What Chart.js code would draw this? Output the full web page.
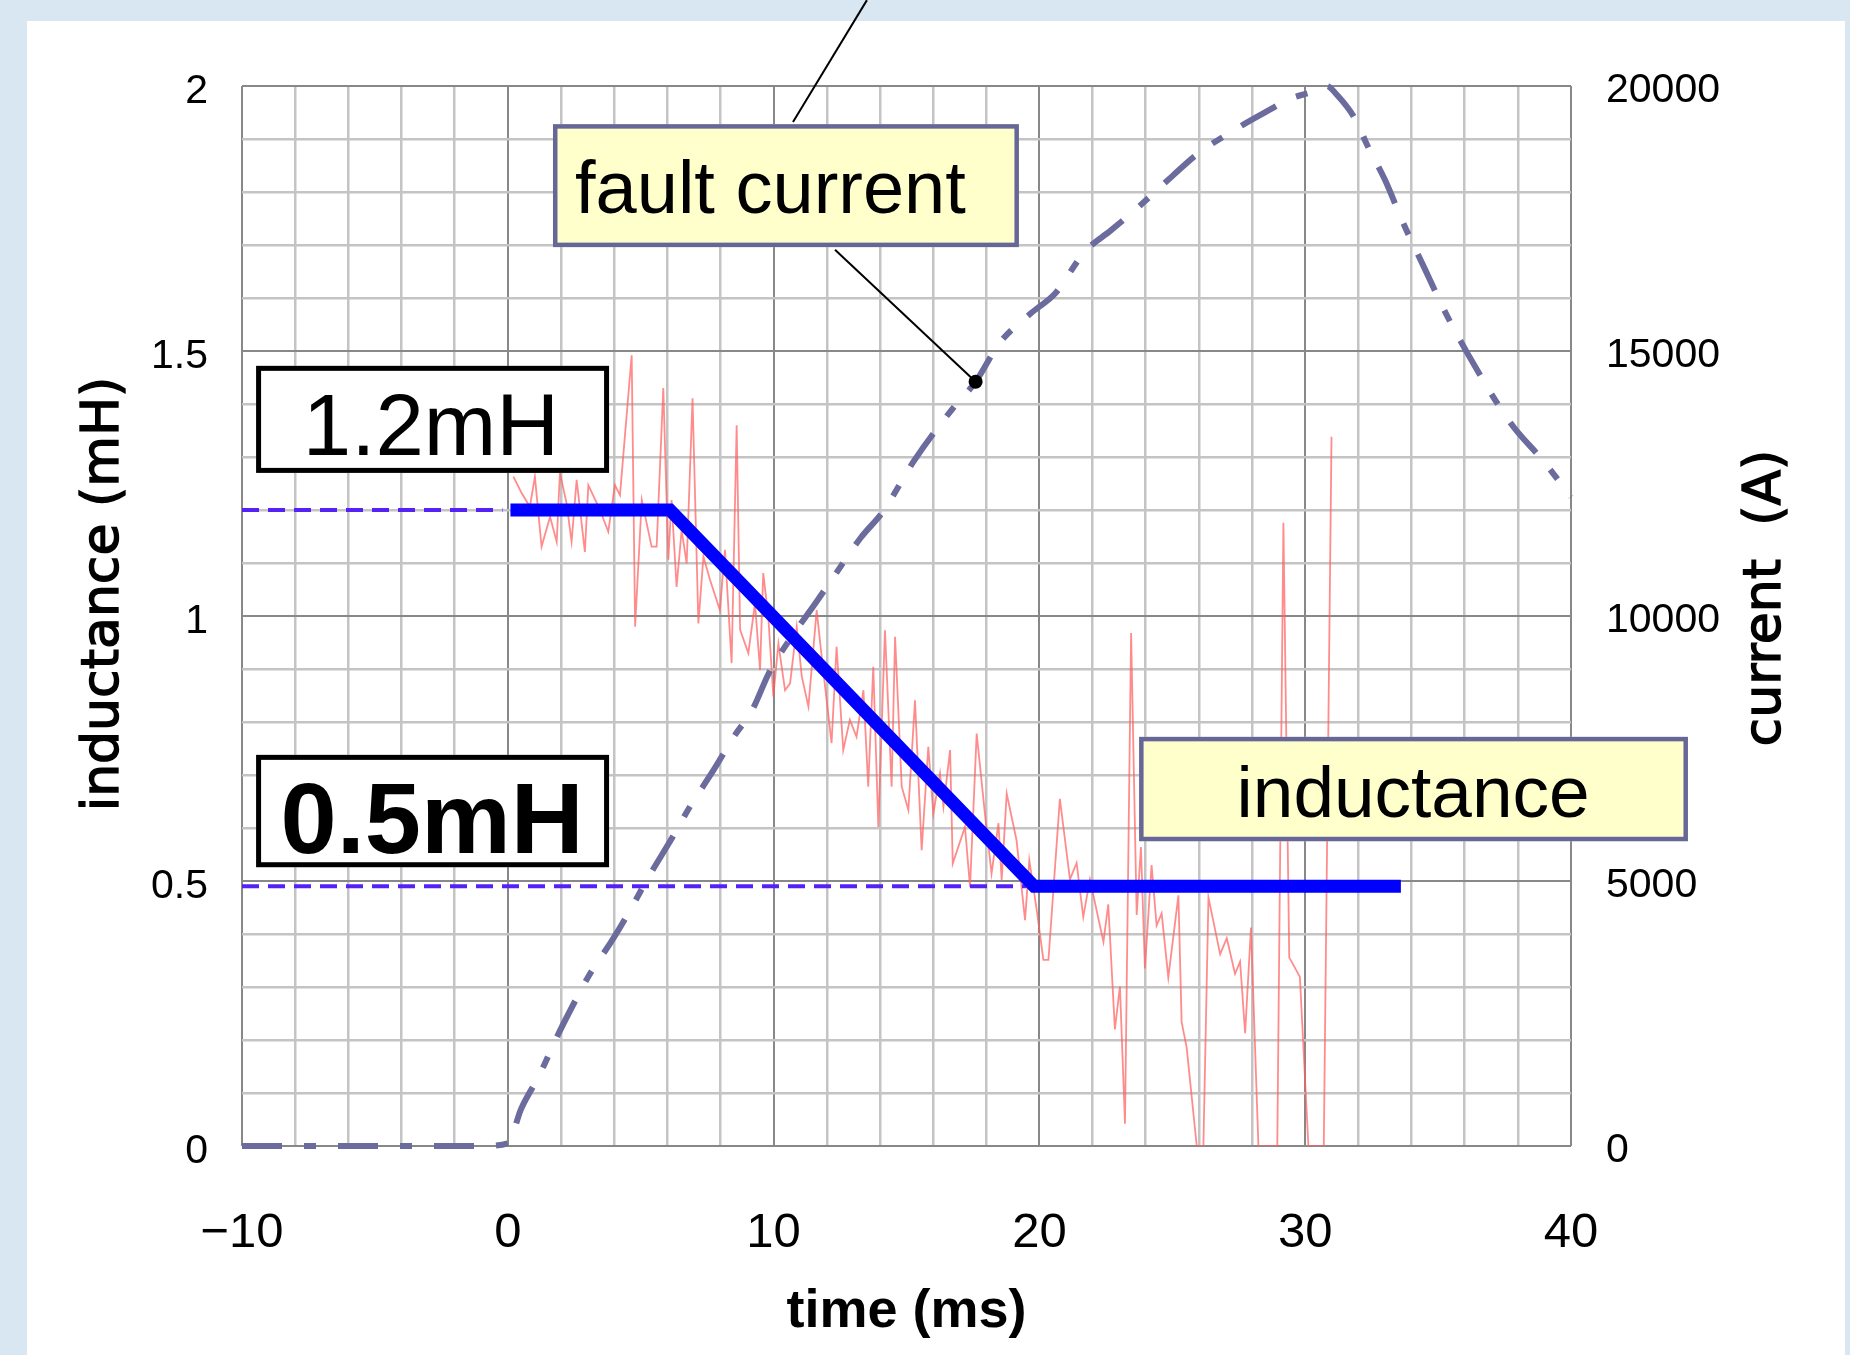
<!DOCTYPE html>
<html>
<head>
<meta charset="utf-8">
<title>Inductance change during fault current</title>
<script src="https://cdn.jsdelivr.net/npm/chart.js@4.4.1/dist/chart.umd.min.js"></script>
<style>
    html, body { margin: 0; padding: 0; }
    body { width: 1850px; height: 1355px; background: #d8e7f2; position: relative; overflow: hidden; }
    #panel { position: absolute; left: 27px; top: 21px; width: 1818px; height: 1334px; background: #ffffff; }
    #chart { position: absolute; left: 0; top: 0; }
</style>
</head>
<body>
<div id="panel"></div>
<canvas id="chart" width="1850" height="1355"></canvas>
<script>
// Inductance / fault current plot
// values

// labelled ticks
const timeTicks = [-10, 0, 10, 20, 30, 40];
const inductanceTicks = [0, 0.5, 1, 1.5, 2];
const currentTicks = [0, 5000, 10000, 15000, 20000];

// measured inductance (thin red trace), ms / mH
const measTime = [
    0.21, 0.52, 0.83, 1.02, 1.27, 1.59, 1.84, 1.96, 2.21, 2.40,
    2.59, 2.90, 3.03, 3.47, 3.78, 4.03, 4.22, 4.66, 4.79, 5.04,
    5.41, 5.60, 5.85, 6.04, 6.16, 6.35, 6.54, 6.73, 6.95, 7.17,
    7.36, 7.61, 7.98, 8.17, 8.42, 8.61, 8.74, 9.05, 9.30, 9.49,
    9.61, 9.80, 9.99, 10.18, 10.43, 10.62, 10.87, 11.06, 11.31, 11.62,
    11.81, 12.18, 12.37, 12.62, 12.87, 13.12, 13.38, 13.56, 13.75, 13.94,
    14.19, 14.44, 14.57, 14.82, 15.07, 15.32, 15.57, 15.82, 16.01, 16.26,
    16.39, 16.64, 16.74, 17.20, 17.39, 17.64, 17.95, 18.20, 18.46, 18.58,
    18.77, 19.14, 19.46, 19.62, 19.90, 20.15, 20.34, 20.77, 21.15, 21.40,
    21.65, 21.90, 22.41, 22.59, 22.84, 23.03, 23.22, 23.45, 23.66, 23.82,
    23.97, 24.22, 24.41, 24.60, 24.85, 25.23, 25.35, 25.54, 25.92, 26.17,
    26.36, 26.80, 27.05, 27.36, 27.55, 27.74, 27.96, 28.24, 28.74, 28.95,
    29.18, 29.40, 29.80, 30.12, 30.70, 30.99
];
const measInductance = [
    1.263, 1.232, 1.206, 1.263, 1.131, 1.187, 1.140, 1.270, 1.213, 1.140,
    1.257, 1.121, 1.247, 1.200, 1.159, 1.247, 1.228, 1.492, 0.980, 1.219,
    1.131, 1.131, 1.430, 1.106, 1.219, 1.055, 1.162, 1.099, 1.411, 0.986,
    1.112, 1.068, 1.011, 1.125, 0.911, 1.360, 0.974, 0.930, 1.024, 0.898,
    1.081, 0.999, 0.848, 0.948, 0.860, 0.873, 0.980, 0.886, 0.829, 1.011,
    0.923, 0.760, 0.942, 0.747, 0.804, 0.772, 0.860, 0.678, 0.904, 0.602,
    0.973, 0.678, 0.961, 0.678, 0.634, 0.841, 0.558, 0.753, 0.627, 0.703,
    0.640, 0.747, 0.533, 0.602, 0.489, 0.778, 0.627, 0.514, 0.609, 0.502,
    0.665, 0.577, 0.426, 0.539, 0.445, 0.351, 0.351, 0.655, 0.503, 0.534,
    0.432, 0.503, 0.385, 0.456, 0.220, 0.301, 0.042, 0.968, 0.436, 0.564,
    0.335, 0.530, 0.416, 0.439, 0.318, 0.473, 0.234, 0.186, 0.000, 0.000,
    0.469, 0.362, 0.392, 0.325, 0.348, 0.213, 0.412, 0.000, 0.000, 0.000,
    1.176, 0.356, 0.319, 0.000, 0.000, 1.338
];

// fault current (dash-dot, right axis), ms / A
const currentTime = [
    -10, -1, 0, 0.5, 1.2, 1.85, 2.6, 3.0, 4.0, 4.6,
    5.3, 6.2, 6.85, 7.75, 8.5, 9.2, 9.85, 10.6, 11.6, 12.3,
    13.3, 14.1, 15.3, 16.7, 17.6, 18.5, 19.7, 20.6, 21.7, 22.7,
    23.8, 25.0, 25.9, 27.2, 28.3, 29.5, 30.2, 30.8, 31.2, 31.9,
    32.3, 33.0, 33.7, 34.5, 35.2, 36.1, 37.7, 39.0, 40
];
const currentAmps = [
    0, 0, 50, 700, 1350, 2060, 2800, 3170, 3940, 4450,
    5080, 5830, 6400, 7100, 7720, 8230, 8950, 9550, 10260, 10770,
    11490, 11960, 12940, 13890, 14420, 15150, 15720, 16090, 16870, 17280,
    17750, 18300, 18700, 19130, 19450, 19770, 19880, 20000, 19830, 19360,
    18920, 18230, 17400, 16550, 15800, 14960, 13660, 12900, 12245
];

// idealised inductance step (thick blue line)
const modelTime = [0.1, 6.1, 19.8, 33.6];
const modelInductance = [1.2, 1.2, 0.49, 0.49];

// dashed guide levels
const guideHighTime = [-10, -0.2];
const guideHigh = [1.2, 1.2];
const guideLowTime = [-10, 19.5];
const guideLow = [0.49, 0.49];

const SANS = '"Liberation Sans", Arial, sans-serif';
const WIDE = '"DejaVu Sans", Verdana, sans-serif';

// annotation boxes, placed in axis units
const boxes = [
    { text: '1.2mH', t0: -9.47, t1: 3.81, v0: 1.472, v1: 1.270, tx: -2.89, ty: 1.304,
      fill: '#ffffff', stroke: '#000000', lw: 5, font: '87px ' + SANS, align: 'center' },
    { text: '0.5mH', t0: -9.47, t1: 3.81, v0: 0.738, v1: 0.526, tx: -2.85, ty: 0.553,
      fill: '#ffffff', stroke: '#000000', lw: 5, font: 'bold 101px ' + SANS, align: 'center' },
    { text: 'fault current', t0: 1.70, t1: 19.23, v0: 1.928, v1: 1.696, tx: 2.53, ty: 1.760,
      fill: '#ffffcc', stroke: '#666699', lw: 4.5, font: '74px ' + SANS, align: 'left' },
    { text: 'inductance', t0: 23.75, t1: 44.4, v0: 0.772, v1: 0.575, tx: 34.06, ty: 0.621,
      fill: '#ffffcc', stroke: '#666699', lw: 4.5, font: '73px ' + SANS, align: 'center' }
];

function zip(xs, ys) {
    return xs.map((x, i) => ({ x: x, y: ys[i] }));
}

function currentAt(t) {
    for (let i = 1; i < currentTime.length; i++) {
        if (t <= currentTime[i]) {
            const f = (t - currentTime[i - 1]) / (currentTime[i] - currentTime[i - 1]);
            return currentAmps[i - 1] + f * (currentAmps[i] - currentAmps[i - 1]);
        }
    }
    return currentAmps[currentAmps.length - 1];
}

function fmtTime(v) {
    return v < 0 ? '\u2212' + Math.abs(v) : String(v);
}

function heavyText(ctx, text, x, y) {
    ctx.fillText(text, x, y);
    ctx.strokeText(text, x, y);
}

const annotations = {
    id: 'annotations',
    afterDatasetsDraw(chart) {
        const { ctx, scales } = chart;
        const x = scales.x, y = scales.y, y2 = scales.y2;
        ctx.save();

        // callout leader lines
        ctx.strokeStyle = '#000';
        ctx.lineWidth = 2;
        ctx.beginPath();
        ctx.moveTo(x.getPixelForValue(13.51), y.getPixelForValue(2.162));
        ctx.lineTo(x.getPixelForValue(10.73), y.getPixelForValue(1.932));
        ctx.stroke();

        const dotT = 17.6;
        const dotX = x.getPixelForValue(dotT);
        const dotY = y2.getPixelForValue(currentAt(dotT));
        ctx.beginPath();
        ctx.moveTo(x.getPixelForValue(12.31), y.getPixelForValue(1.691));
        ctx.lineTo(dotX, dotY);
        ctx.stroke();
        ctx.beginPath();
        ctx.arc(dotX, dotY, 7, 0, Math.PI * 2);
        ctx.fillStyle = '#000';
        ctx.fill();

        boxes.forEach(b => {
            const l = x.getPixelForValue(b.t0), r = x.getPixelForValue(b.t1);
            const t = y.getPixelForValue(b.v0), bt = y.getPixelForValue(b.v1);
            ctx.fillStyle = b.fill;
            ctx.fillRect(l, t, r - l, bt - t);
            ctx.lineWidth = b.lw;
            ctx.strokeStyle = b.stroke;
            ctx.strokeRect(l + b.lw / 2, t + b.lw / 2, r - l - b.lw, bt - t - b.lw);
            ctx.font = b.font;
            ctx.fillStyle = '#000';
            ctx.textAlign = b.align;
            ctx.textBaseline = 'alphabetic';
            ctx.fillText(b.text, x.getPixelForValue(b.tx), y.getPixelForValue(b.ty));
        });
        ctx.restore();
    },
    afterDraw(chart) {
        const { ctx, chartArea } = chart;
        const midY = (chartArea.top + chartArea.bottom) / 2;
        ctx.save();
        ctx.fillStyle = '#000';
        ctx.strokeStyle = '#000';
        ctx.lineWidth = 1.4;
        ctx.font = '52px ' + WIDE;
        ctx.textAlign = 'center';
        ctx.textBaseline = 'middle';

        ctx.save();
        ctx.translate(chartArea.left - 138, midY - 22);
        ctx.rotate(-Math.PI / 2);
        heavyText(ctx, 'inductance (mH)', 0, 0);
        ctx.restore();

        ctx.save();
        ctx.translate(chartArea.right + 195, midY - 18);
        ctx.rotate(-Math.PI / 2);
        heavyText(ctx, 'current  (A)', 0, 0);
        ctx.restore();

        ctx.restore();
    }
};

const minorGrid = '#c4c4c4';
const majorGrid = '#888888';

new Chart(document.getElementById('chart'), {
    type: 'line',
    data: {
        datasets: [
            {
                label: 'inductance model',
                data: zip(modelTime, modelInductance),
                yAxisID: 'y',
                borderColor: '#0000ff',
                borderWidth: 13,
                borderCapStyle: 'butt',
                borderJoinStyle: 'miter',
                pointRadius: 0,
                order: 0
            },
            {
                label: '1.2 mH',
                data: zip(guideHighTime, guideHigh),
                yAxisID: 'y',
                borderColor: '#5522f5',
                borderWidth: 4,
                borderDash: [17, 9],
                pointRadius: 0,
                order: 1
            },
            {
                label: '0.5 mH',
                data: zip(guideLowTime, guideLow),
                yAxisID: 'y',
                borderColor: '#5522f5',
                borderWidth: 4,
                borderDash: [17, 9],
                pointRadius: 0,
                order: 1
            },
            {
                label: 'fault current',
                data: zip(currentTime, currentAmps),
                yAxisID: 'y2',
                borderColor: '#6b6b9e',
                borderWidth: 6,
                borderDash: [40, 22, 12, 22],
                cubicInterpolationMode: 'monotone',
                pointRadius: 0,
                clip: false,
                order: 2
            },
            {
                label: 'inductance',
                data: zip(measTime, measInductance),
                yAxisID: 'y',
                borderColor: 'rgba(255, 95, 95, 0.72)',
                borderWidth: 1.8,
                pointRadius: 0,
                order: 3
            }
        ]
    },
    options: {
        responsive: false,
        animation: false,
        layout: { padding: { top: 86, left: 0, right: 0, bottom: 0 } },
        plugins: {
            legend: { display: false },
            tooltip: { enabled: false }
        },
        scales: {
            x: {
                type: 'linear',
                min: -10,
                max: 40,
                ticks: {
                    stepSize: 2,
                    autoSkip: false,
                    maxRotation: 0,
                    padding: 58,
                    color: '#000',
                    font: { family: SANS, size: 49 },
                    callback: v => timeTicks.includes(v) ? fmtTime(v) : ''
                },
                grid: {
                    drawTicks: false,
                    color: c => c.tick && c.tick.value % 10 === 0 ? majorGrid : minorGrid,
                    lineWidth: c => c.tick && c.tick.value % 10 === 0 ? 2 : 2.5
                },
                border: { display: false },
                title: {
                    display: true,
                    text: 'time (ms)',
                    color: '#000',
                    font: { family: SANS, size: 54, weight: 'bold' },
                    padding: { top: 0, bottom: 10 }
                },
                afterFit: s => { s.height = 209; }
            },
            y: {
                type: 'linear',
                position: 'left',
                min: 0,
                max: 2,
                ticks: {
                    stepSize: 0.1,
                    autoSkip: false,
                    padding: 34,
                    labelOffset: 6,
                    color: '#000',
                    font: { family: SANS, size: 41 },
                    callback: v => {
                        const r = Math.round(v * 10) / 10;
                        return inductanceTicks.includes(r) ? String(r) : '';
                    }
                },
                grid: {
                    drawTicks: false,
                    color: c => c.tick && Math.round(c.tick.value * 10) % 5 === 0 ? majorGrid : minorGrid,
                    lineWidth: c => c.tick && Math.round(c.tick.value * 10) % 5 === 0 ? 2 : 2.5
                },
                border: { display: false },
                afterFit: s => { s.width = 242; }
            },
            y2: {
                type: 'linear',
                position: 'right',
                min: 0,
                max: 20000,
                ticks: {
                    stepSize: 5000,
                    padding: 35,
                    labelOffset: 5,
                    color: '#000',
                    font: { family: SANS, size: 41 },
                    callback: v => currentTicks.includes(v) ? String(v) : ''
                },
                grid: { drawOnChartArea: false, drawTicks: false },
                border: { display: false },
                afterFit: s => { s.width = 279; }
            }
        }
    },
    plugins: [annotations]
});
</script>
</body>
</html>
